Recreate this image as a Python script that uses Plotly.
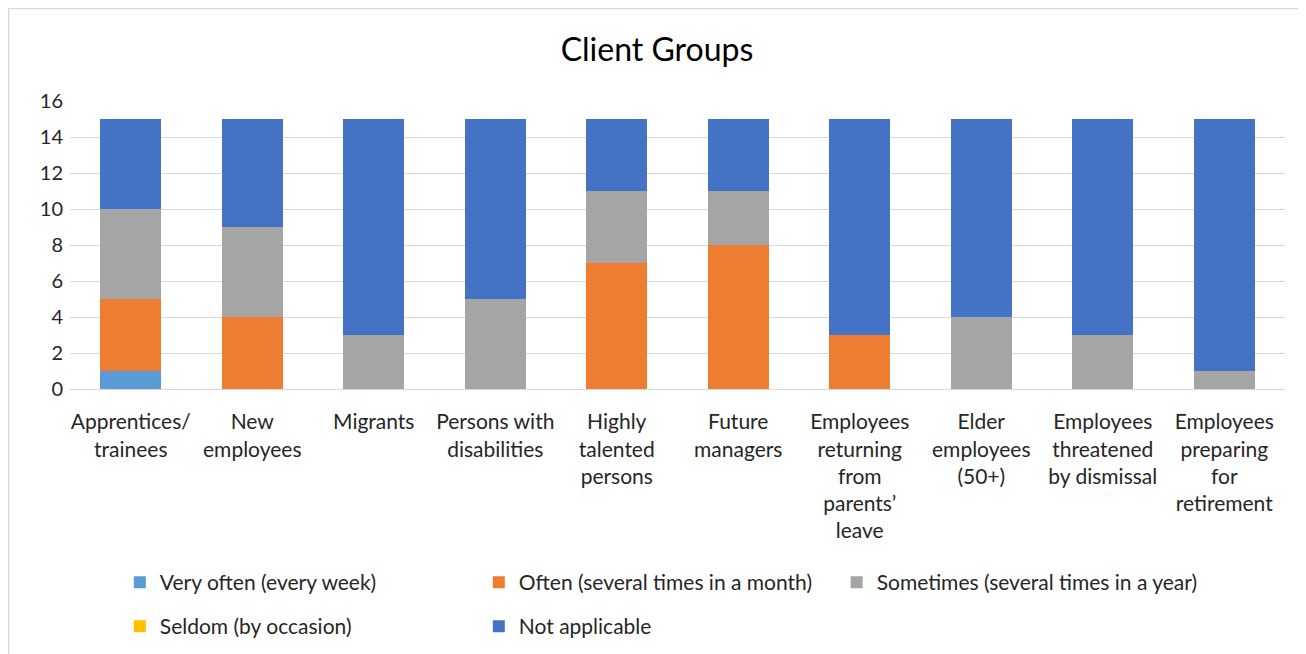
import plotly.graph_objects as go

categories = ["Apprentices/<br>trainees", "New<br>employees", "Migrants", "Persons with<br>disabilities",
              "Highly<br>talented<br>persons", "Future<br>managers",
              "Employees<br>returning<br>from<br>parents’<br>leave", "Elder<br>employees<br>(50+)",
              "Employees<br>threatened<br>by dismissal", "Employees<br>preparing<br>for<br>retirement"]
very_often = [1, 0, 0, 0, 0, 0, 0, 0, 0, 0]
often = [4, 4, 0, 0, 7, 8, 3, 0, 0, 0]
sometimes = [5, 5, 3, 5, 4, 3, 0, 4, 3, 1]
seldom = [0, 0, 0, 0, 0, 0, 0, 0, 0, 0]
not_applicable = [5, 6, 12, 10, 4, 4, 12, 11, 12, 14]
y_ticks = [0, 2, 4, 6, 8, 10, 12, 14, 16]

FONT = "Lato"
fig = go.Figure()
series = [
    ("Very often (every week)", very_often, "#5B9BD5", "legend"),
    ("Often (several times in a month)", often, "#ED7D31", "legend"),
    ("Sometimes (several times in a year)", sometimes, "#A5A5A5", "legend3"),
    ("Seldom (by occasion)", seldom, "#FFC000", "legend2"),
    ("Not applicable", not_applicable, "#4472C4", "legend2"),
]
for name, vals, col, lg in series:
    fig.add_trace(go.Bar(x=categories, y=vals, name=name, marker=dict(color=col, line=dict(width=0)),
                         legend=lg))

legend_common = dict(orientation="h", xanchor="left", yanchor="middle",
                     font=dict(family=FONT, size=21, color="#262626"),
                     bgcolor="rgba(0,0,0,0)", itemwidth=30, traceorder="normal")
fig.update_layout(
    barmode="stack", bargap=0.5,
    width=1298, height=646,
    margin=dict(l=62, r=21, t=93, b=265, autoexpand=False),
    paper_bgcolor="white", plot_bgcolor="white",
    title=dict(text="Client Groups", x=0.5, xanchor="center", y=0.936, yanchor="middle",
               font=dict(family=FONT, size=32, color="#000000")),
    font=dict(family=FONT, color="#262626"),
    xaxis=dict(tickfont=dict(size=21, color="#262626"), showgrid=False, showline=True,
               linecolor="#D9D9D9", ticks="", ticklabelstandoff=14, automargin=False),
    yaxis=dict(range=[0, 16], tickvals=y_ticks, tickfont=dict(size=20, color="#262626"),
               showgrid=True, gridcolor="#D9D9D9", gridwidth=1, zeroline=False, ticks="",
               ticklabelstandoff=6, automargin=False),
    legend=dict(x=0.041, y=-0.672, entrywidth=314, entrywidthmode="pixels", **legend_common),
    legend2=dict(x=0.041, y=-0.825, entrywidth=314, entrywidthmode="pixels", **legend_common),
    legend3=dict(x=0.631, y=-0.672, **legend_common),
    shapes=[dict(type="rect", xref="paper", yref="paper", x0=-0.0505, x1=1.2, y0=-2, y1=1.321,
                 line=dict(color="#D9D9D9", width=1.5), fillcolor="rgba(0,0,0,0)", layer="below")],
    showlegend=True,
)
fig.write_html("out.html")
